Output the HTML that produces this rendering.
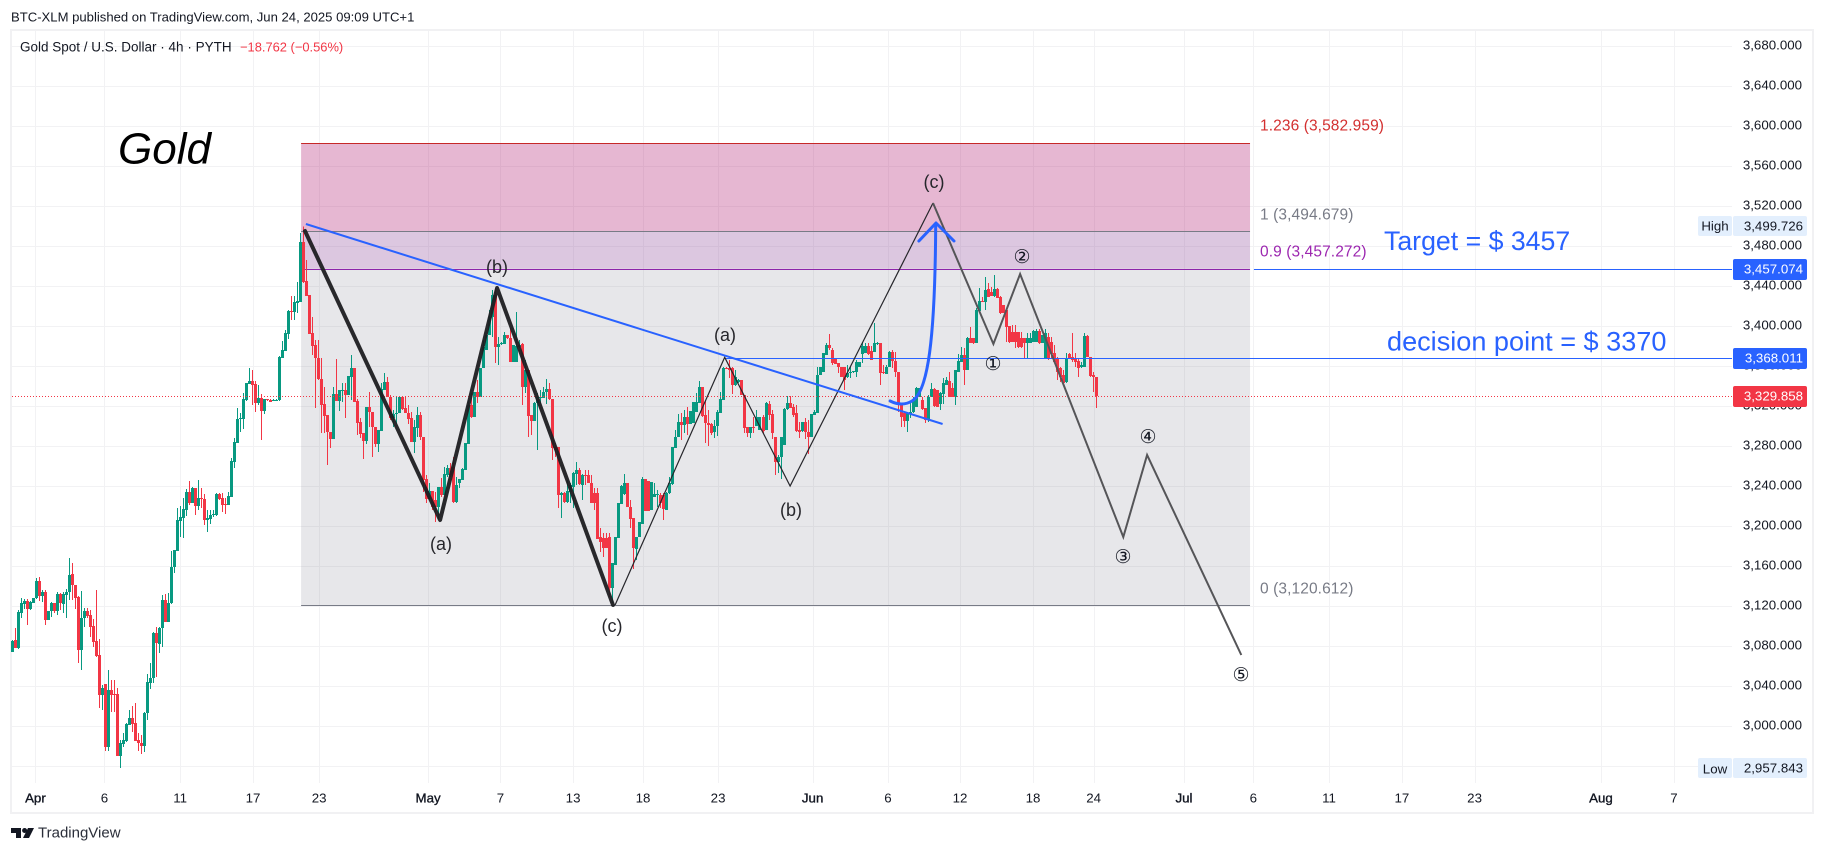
<!DOCTYPE html>
<html lang="en">
<head>
<meta charset="utf-8">
<title>Gold Spot / U.S. Dollar chart</title>
<style>
html,body{margin:0;padding:0;background:#fff;width:1824px;height:853px;overflow:hidden}
svg{display:block;font-family:"Liberation Sans",sans-serif}
text{dominant-baseline:central}
.wave-label{font-size:18px;fill:#26262b;text-anchor:middle}
.wave-number{font-size:19px;fill:#131722;text-anchor:middle;font-family:"DejaVu Sans","Liberation Sans",sans-serif}
.fib-label{font-size:15.5px;letter-spacing:.1px}
.tag-text{font-size:13.3px;text-anchor:end}
</style>
</head>
<body>
<svg id="chart" xmlns="http://www.w3.org/2000/svg" width="1824" height="853" viewBox="0 0 1824 853">
  <rect x="0" y="0" width="1824" height="853" fill="#ffffff"/>
  <rect x="11" y="30" width="1802" height="783" fill="#ffffff" stroke="#f1f1f3" stroke-width="2"/>
  <g id="grid"></g>
  <g id="zones"></g>
  <g id="candles" shape-rendering="crispEdges"></g>
  <g id="levels"></g>
  <g id="drawings"></g>
  <g id="axis"></g>

  <text x="11" y="17" font-size="13.1" fill="#131722">BTC-XLM published on TradingView.com, Jun 24, 2025 09:09 UTC+1</text>
  <text x="20" y="47" font-size="13.5" fill="#131722">Gold Spot / U.S. Dollar · 4h · PYTH</text>
  <text x="240" y="47" font-size="12.9" fill="#f23645">−18.762 (−0.56%)</text>
  <text x="118" y="149" font-size="44" font-style="italic" fill="#000000">Gold</text>

  <text class="wave-label" x="934" y="182">(c)</text>
  <text class="wave-label" x="497" y="267">(b)</text>
  <text class="wave-label" x="725" y="335">(a)</text>
  <text class="wave-label" x="791" y="510">(b)</text>
  <text class="wave-label" x="441" y="544">(a)</text>
  <text class="wave-label" x="612" y="626">(c)</text>
  <text class="wave-number" x="993" y="364">①</text>
  <text class="wave-number" x="1022" y="257">②</text>
  <text class="wave-number" x="1123" y="557">③</text>
  <text class="wave-number" x="1148" y="437">④</text>
  <text class="wave-number" x="1241" y="675">⑤</text>

  <text class="fib-label" x="1260" y="126" fill="#d32f2f">1.236 (3,582.959)</text>
  <text class="fib-label" x="1260" y="215" fill="#787b86">1 (3,494.679)</text>
  <text class="fib-label" x="1260" y="252" fill="#9c27b0">0.9 (3,457.272)</text>
  <text class="fib-label" x="1260" y="589" fill="#787b86">0 (3,120.612)</text>

  <text x="1384" y="241" font-size="26.7" fill="#2962ff">Target = $ 3457</text>
  <text x="1387" y="341" font-size="27.1" fill="#2962ff">decision point = $ 3370</text>

  <rect x="1698" y="216" width="34" height="20" rx="2" fill="#e3effd"/>
  <text x="1715" y="226" font-size="13.3" fill="#131722" text-anchor="middle">High</text>
  <rect x="1733" y="216" width="74" height="20" rx="2" fill="#e3effd"/>
  <text class="tag-text" x="1803" y="226" fill="#131722">3,499.726</text>
  <rect x="1698" y="758" width="34" height="20" rx="2" fill="#e3effd"/>
  <text x="1715" y="769" font-size="13.3" fill="#131722" text-anchor="middle">Low</text>
  <rect x="1733" y="758" width="74" height="20" rx="2" fill="#e3effd"/>
  <text class="tag-text" x="1803" y="768" fill="#131722">2,957.843</text>

  <g id="tags">
    <rect x="1733" y="259" width="74" height="21" rx="2" fill="#2962ff"/>
    <text class="tag-text" x="1803" y="269" fill="#ffffff">3,457.074</text>
    <rect x="1733" y="348" width="74" height="21" rx="2" fill="#2962ff"/>
    <text class="tag-text" x="1803" y="358" fill="#ffffff">3,368.011</text>
    <rect x="1733" y="386" width="74" height="21" rx="2" fill="#f23645"/>
    <text class="tag-text" x="1803" y="396" fill="#ffffff">3,329.858</text>
  </g>

  <g>
    <path d="M11 828h10v10h-5v-5h-5z" fill="#131722"/>
    <circle cx="24.6" cy="830.5" r="2.5" fill="#131722"/>
    <path d="M28 828h6l-5 10h-6z" fill="#131722"/>
    <text x="38" y="833" font-size="15" fill="#2a2e39">TradingView</text>
  </g>
</svg>
<script>
const opens = [
3074,3086,3078,3113,3122,3125,3117,3123,3128,3145,
3130,3134,3106,3115,3123,3115,3132,3122,3131,3134,
3152,3141,3129,3076,3108,3115,3111,3100,3085,3071,
3031,3042,2979,3036,3032,3032,2970,2982,2985,3001,
3008,3003,2986,2983,2980,3013,3043,3048,3093,3082,
3098,3126,3104,3123,3159,3175,3205,3208,3216,3234,
3223,3238,3220,3228,3227,3206,3207,3211,3211,3232,
3228,3222,3221,3229,3264,3283,3307,3307,3326,3342,
3345,3342,3323,3328,3315,3327,3326,3325,3325,3326,
3368,3375,3392,3415,3414,3423,3424,3484,3445,3431,
3393,3381,3368,3347,3322,3311,3294,3287,3332,3325,
3335,3336,3331,3349,3358,3325,3304,3293,3285,3319,
3314,3299,3282,3295,3336,3344,3329,3308,3312,3313,
3329,3318,3313,3308,3284,3298,3311,3289,3247,3227,
3235,3226,3219,3239,3231,3251,3258,3259,3224,3243,
3246,3256,3282,3321,3309,3334,3329,3358,3376,3391,
3409,3431,3379,3382,3382,3391,3388,3364,3364,3379,
3382,3339,3356,3311,3305,3323,3328,3328,3334,3337,
3327,3279,3279,3231,3233,3224,3234,3239,3252,3256,
3241,3251,3251,3243,3233,3233,3189,3188,3188,3189,
3138,3161,3188,3222,3232,3243,3219,3208,3177,3189,
3202,3247,3245,3216,3229,3231,3231,3231,3216,3233,
3242,3278,3289,3304,3301,3309,3302,3303,3314,3323,
3339,3311,3303,3302,3294,3300,3313,3326,3358,3358,
3358,3341,3344,3346,3331,3299,3293,3299,3300,3296,
3309,3296,3322,3312,3289,3264,3269,3281,3317,3323,
3319,3313,3296,3295,3304,3294,3289,3311,3313,3351,
3354,3371,3381,3376,3368,3363,3359,3359,3349,3353,
3354,3354,3359,3372,3373,3380,3375,3374,3382,3383,
3354,3352,3359,3374,3365,3354,3323,3313,3305,3312,
3314,3319,3329,3326,3318,3306,3329,3337,3336,3322,
3332,3341,3345,3338,3329,3354,3364,3371,3356,3388,
3388,3383,3415,3425,3424,3437,3434,3430,3437,3429,
3421,3416,3400,3394,3394,3394,3388,3388,3383,3383,
3384,3384,3395,3383,3368,3389,3384,3373,3368,3358,
3351,3344,3372,3369,3367,3365,3359,3359,3390,3369,3351,3349];
const highs = [
3086,3098,3116,3128,3127,3127,3125,3128,3148,3149,
3136,3136,3115,3124,3123,3134,3133,3134,3137,3168,
3163,3141,3130,3135,3118,3118,3116,3107,3136,3087,
3041,3042,3056,3046,3046,3038,2986,2993,3003,3016,
3020,3023,2993,2991,3014,3052,3063,3094,3099,3099,
3131,3132,3133,3175,3176,3218,3220,3228,3237,3245,
3239,3238,3246,3238,3232,3216,3216,3216,3233,3233,
3233,3228,3234,3268,3288,3318,3313,3333,3343,3358,
3356,3345,3341,3332,3327,3327,3327,3327,3327,3370,
3385,3396,3416,3430,3430,3444,3493,3499.726,3466,3431,
3409,3386,3386,3368,3339,3311,3294,3339,3367,3336,
3343,3343,3350,3371,3358,3327,3308,3293,3319,3334,
3314,3299,3296,3343,3353,3349,3331,3316,3329,3329,
3329,3329,3321,3314,3306,3319,3314,3289,3251,3243,
3235,3234,3239,3248,3259,3261,3263,3269,3249,3247,
3258,3283,3326,3333,3334,3346,3358,3386,3391,3416,
3436,3438,3389,3384,3394,3391,3398,3381,3414,3386,
3383,3366,3356,3311,3324,3333,3336,3339,3347,3343,
3327,3283,3279,3234,3234,3246,3243,3254,3264,3258,
3252,3256,3256,3251,3238,3238,3198,3193,3193,3193,
3163,3189,3223,3241,3252,3243,3226,3208,3189,3204,
3249,3247,3245,3244,3243,3236,3233,3233,3234,3249,
3279,3296,3312,3313,3316,3319,3315,3324,3333,3345,
3339,3326,3316,3303,3306,3316,3334,3359,3359,3366,
3359,3356,3347,3346,3331,3299,3299,3309,3316,3309,
3311,3324,3325,3316,3289,3271,3289,3318,3330,3330,
3322,3321,3304,3304,3308,3306,3312,3316,3359,3359,
3373,3383,3392,3378,3368,3363,3359,3359,3361,3359,
3355,3366,3364,3384,3383,3383,3380,3403,3384,3383,
3361,3361,3375,3376,3374,3354,3323,3314,3314,3323,
3329,3339,3338,3329,3318,3331,3343,3338,3336,3334,
3348,3349,3354,3343,3356,3372,3379,3378,3389,3399,
3388,3418,3438,3429,3449,3443,3439,3451,3438,3430,
3421,3418,3400,3401,3401,3394,3394,3388,3393,3393,
3396,3397,3397,3391,3397,3393,3389,3381,3369,3359,
3356,3373,3373,3393,3373,3367,3364,3393,3391,3369,3354,3349];
const lows = [
3074,3078,3077,3108,3117,3101,3116,3123,3127,3125,
3124,3101,3106,3109,3113,3111,3116,3113,3108,3126,
3126,3117,3063,3056,3099,3108,3089,3079,3069,3018,
3016,2975,2975,3014,3014,2970,2958,2979,2984,3001,
2994,2985,2975,2972,2974,3006,3037,3043,3049,3073,
3079,3104,3104,3122,3153,3175,3189,3188,3210,3221,
3223,3211,3216,3218,3201,3194,3202,3209,3210,3226,
3214,3212,3221,3229,3258,3283,3294,3297,3325,3342,
3321,3314,3321,3286,3312,3325,3324,3325,3325,3325,
3368,3375,3387,3406,3406,3413,3424,3443,3430,3392,
3371,3318,3346,3293,3293,3261,3278,3287,3325,3315,
3324,3308,3331,3326,3324,3291,3288,3267,3282,3299,
3269,3279,3274,3295,3336,3329,3306,3299,3302,3313,
3316,3313,3302,3284,3273,3289,3286,3234,3223,3226,
3216,3204,3206,3229,3231,3249,3249,3223,3223,3238,
3246,3256,3282,3308,3309,3323,3329,3358,3376,3391,
3389,3363,3361,3381,3382,3387,3364,3364,3364,3378,
3321,3333,3289,3291,3305,3276,3322,3328,3322,3326,
3266,3269,3218,3208,3223,3223,3223,3218,3241,3241,
3226,3241,3243,3223,3216,3187,3174,3169,3178,3129,
3123,3161,3188,3222,3231,3219,3198,3157,3166,3189,
3202,3215,3215,3216,3229,3219,3218,3206,3216,3232,
3241,3278,3289,3286,3293,3291,3302,3303,3314,3323,
3309,3283,3280,3291,3288,3290,3313,3326,3357,3348,
3332,3340,3343,3331,3293,3289,3288,3293,3300,3296,
3293,3296,3306,3287,3251,3253,3247,3281,3316,3318,
3309,3294,3288,3294,3287,3272,3289,3311,3313,3351,
3354,3371,3376,3361,3362,3353,3349,3336,3348,3348,
3353,3349,3359,3363,3373,3371,3366,3374,3381,3341,
3352,3352,3359,3358,3349,3314,3299,3299,3294,3308,
3313,3319,3329,3316,3303,3304,3329,3319,3319,3316,
3322,3341,3329,3329,3321,3354,3364,3341,3356,3383,
3382,3383,3413,3424,3416,3429,3430,3429,3428,3412,
3413,3384,3383,3384,3378,3378,3378,3368,3368,3383,
3384,3384,3382,3383,3368,3366,3368,3363,3346,3344,
3343,3343,3368,3364,3359,3349,3358,3359,3369,3349,3334,3318];
const closes = [
3085,3078,3114,3123,3125,3117,3124,3128,3145,3130,
3134,3106,3115,3123,3115,3132,3123,3132,3134,3151,
3141,3128,3076,3108,3115,3110,3099,3084,3070,3031,
3038,2979,3036,3031,3031,2970,2983,2986,3002,3008,
3002,2985,2983,2980,3013,3044,3048,3093,3083,3098,
3126,3104,3123,3159,3176,3206,3209,3217,3234,3223,
3238,3220,3228,3227,3206,3208,3211,3212,3232,3227,
3221,3221,3230,3265,3284,3307,3308,3327,3343,3345,
3341,3323,3328,3315,3327,3326,3324,3326,3326,3369,
3376,3393,3415,3414,3424,3425,3484,3444,3430,3392,
3380,3368,3347,3321,3310,3294,3287,3332,3325,3336,
3336,3331,3350,3358,3324,3303,3292,3285,3319,3314,
3299,3282,3296,3337,3344,3329,3308,3312,3313,3329,
3317,3313,3307,3284,3299,3311,3289,3246,3227,3235,
3219,3219,3239,3231,3252,3258,3251,3224,3241,3247,
3257,3283,3321,3309,3334,3329,3358,3379,3391,3409,
3431,3379,3382,3383,3391,3388,3364,3381,3380,3381,
3339,3356,3310,3305,3323,3329,3329,3334,3337,3327,
3278,3276,3231,3233,3224,3235,3241,3253,3256,3242,
3251,3250,3243,3223,3223,3187,3184,3178,3178,3138,
3163,3189,3223,3240,3243,3219,3207,3178,3189,3204,
3247,3215,3215,3244,3232,3232,3223,3217,3233,3243,
3279,3289,3304,3301,3309,3302,3315,3324,3324,3339,
3310,3303,3301,3293,3300,3314,3327,3358,3357,3356,
3341,3349,3346,3331,3298,3293,3299,3298,3309,3309,
3295,3323,3311,3293,3264,3269,3289,3317,3323,3318,
3311,3295,3294,3304,3294,3289,3312,3314,3351,3359,
3373,3381,3378,3363,3362,3359,3349,3346,3353,3354,
3355,3364,3364,3380,3380,3372,3366,3383,3383,3353,
3353,3359,3374,3365,3354,3323,3309,3305,3313,3314,
3326,3338,3338,3317,3306,3329,3337,3320,3319,3333,
3343,3346,3329,3329,3356,3365,3371,3356,3388,3383,
3383,3416,3425,3424,3436,3429,3430,3437,3428,3413,
3413,3399,3384,3384,3384,3379,3379,3383,3388,3388,
3395,3395,3383,3391,3393,3368,3372,3364,3354,3349,
3343,3368,3368,3366,3364,3358,3361,3390,3369,3350,3349,3329.858];

const priceTicks = [3680,3640,3600,3560,3520,3480,3440,3400,3360,3320,3280,3240,3200,3160,3120,3080,3040,3000,2960];
const priceTickLabels = ["3,680.000","3,640.000","3,600.000","3,560.000","3,520.000","3,480.000","3,440.000","3,400.000","3,360.000","3,320.000","3,280.000","3,240.000","3,200.000","3,160.000","3,120.000","3,080.000","3,040.000","3,000.000",""];
const timeTickBars = [7.8,30.8,56,80.3,102.3,138.6,162.7,186.9,210.2,235.2,266.7,291.8,315.8,340.1,360.3,390.4,413.5,438.7,463,487.2,529.3,553.6];
const timeTickLabels = ["Apr","6","11","17","23","May","7","13","18","23","Jun","6","12","18","24","Jul","6","11","17","23","Aug","7"];
const monthTicks = ["Apr","May","Jun","Jul","Aug"];

const fibPrices = [3582.959,3494.679,3457.272,3120.612];
const fibStartBar = 96.3;
const fibEndBar = 412.4;

const trendBars = [97.9,310];
const trendPrices = [3502,3302];
const correctiveBars = [97.6,142.6,161.6,200.2];
const correctivePrices = [3495,3206,3438,3121];
const thinWaveBars = [200.9,237.4,259.2,306.8];
const thinWavePrices = [3121,3368.7,3240,3523];
const impulseBars = [306.8,326.9,335.8,370.2,378.1,409.5];
const impulsePrices = [3523,3382,3452,3189,3271,3071];
const targetLevel = {price:3457.074,startBar:413.7};
const decisionLevel = {price:3368.011,startBar:237.4};
const lastPrice = 3329.858;

const SVGNS = "http://www.w3.org/2000/svg";
const PLOT_LEFT = 12, PLOT_RIGHT = 1732, PLOT_BOTTOM = 783;
function xAt(bar){ return 12 + bar * 3.002; }
function yAt(price){ return 126 + (3600 - price); }
function make(tag, parent, attrs){
  const node = document.createElementNS(SVGNS, tag);
  for (const key in attrs) node.setAttribute(key, attrs[key]);
  parent.appendChild(node);
  return node;
}
function pointList(bars, prices){
  return bars.map(function(b, i){ return xAt(b).toFixed(1) + "," + yAt(prices[i]).toFixed(1); }).join(" ");
}

const gridGroup = document.getElementById("grid");
const axisGroup = document.getElementById("axis");
priceTicks.forEach(function(price, i){
  const y = Math.round(yAt(price)) + 0.5;
  const line = make("line", gridGroup, {x1:PLOT_LEFT, x2:PLOT_RIGHT, y1:y, y2:y, stroke:"#f2f2f4", "stroke-width":1});
  
  
  if (priceTickLabels[i]) {
    const t = make("text", axisGroup, {x:1802, y:yAt(price) - 1, "font-size":13.3, fill:"#131722", "text-anchor":"end"});
    t.textContent = priceTickLabels[i];
    
    
  }
});
timeTickBars.forEach(function(bar, i){
  const x = Math.round(xAt(bar)) + 0.5;
  const line = make("line", gridGroup, {x1:x, x2:x, y1:31, y2:PLOT_BOTTOM, stroke:"#f2f2f4", "stroke-width":1});
  
  
  const isMonth = monthTicks.indexOf(timeTickLabels[i]) >= 0;
  const t = make("text", axisGroup, {x:xAt(bar), y:798, "font-size":13.3, fill:"#131722", "text-anchor":"middle", stroke:isMonth ? "#131722" : "none", "stroke-width":isMonth ? 0.35 : 0});
  t.textContent = timeTickLabels[i];
  
  
});

const zonesGroup = document.getElementById("zones");
const zoneFills = ["rgba(172,18,105,.3)","rgba(138,68,152,.3)","rgba(95,95,115,.15)"];
const fibLineColors = ["#c62828","#787b86","#8e24aa","#787b86"];
zoneFills.forEach(function(fill, i){
  const top = yAt(fibPrices[i]), bottom = yAt(fibPrices[i + 1]);
  const zone = make("rect", zonesGroup, {x:xAt(fibStartBar), y:top, width:xAt(fibEndBar) - xAt(fibStartBar), height:bottom - top, fill:fill});
  
  
});
fibPrices.forEach(function(price, i){
  const y = Math.round(yAt(price)) + 0.5;
  const line = make("line", zonesGroup, {x1:xAt(fibStartBar), x2:xAt(fibEndBar), y1:y, y2:y, stroke:fibLineColors[i], "stroke-width":1});
  
  
});

const candlesGroup = document.getElementById("candles");
opens.forEach(function(open, i){
  const close = closes[i];
  const color = close >= open ? "#089981" : "#f23645";
  const cx = Math.round(xAt(i));
  const g = make("g", candlesGroup, {});
  
  
  make("rect", g, {x:cx, y:yAt(highs[i]), width:1, height:Math.max(yAt(lows[i]) - yAt(highs[i]), 1), fill:color});
  const top = yAt(Math.max(open, close));
  make("rect", g, {x:cx - 1, y:top, width:3, height:Math.max(Math.abs(open - close), 1), fill:color});
});

const levelsGroup = document.getElementById("levels");
const targetLine = make("line", levelsGroup, {x1:xAt(targetLevel.startBar), x2:PLOT_RIGHT, y1:Math.round(yAt(targetLevel.price)) + .5, y2:Math.round(yAt(targetLevel.price)) + .5, stroke:"#2962ff", "stroke-width":1});


const decisionLine = make("line", levelsGroup, {x1:xAt(decisionLevel.startBar), x2:PLOT_RIGHT, y1:Math.round(yAt(decisionLevel.price)) + .5, y2:Math.round(yAt(decisionLevel.price)) + .5, stroke:"#2962ff", "stroke-width":1});


const lastLine = make("line", levelsGroup, {x1:PLOT_LEFT, x2:PLOT_RIGHT, y1:Math.round(yAt(lastPrice)) + .5, y2:Math.round(yAt(lastPrice)) + .5, stroke:"#f23645", "stroke-width":1, "stroke-dasharray":"1 2"});



const drawingsGroup = document.getElementById("drawings");
const corrective = make("polyline", drawingsGroup, {points:pointList(correctiveBars, correctivePrices), fill:"none", stroke:"#1d1d21", "stroke-width":4, "stroke-linejoin":"round", "stroke-linecap":"round", opacity:.95});


const thinWave = make("polyline", drawingsGroup, {points:pointList(thinWaveBars, thinWavePrices), fill:"none", stroke:"#26262b", "stroke-width":1.2});


const impulse = make("polyline", drawingsGroup, {points:pointList(impulseBars, impulsePrices), fill:"none", stroke:"#555558", "stroke-width":2});


const trend = make("polyline", drawingsGroup, {points:pointList(trendBars, trendPrices), fill:"none", stroke:"#2962ff", "stroke-width":2});



const arrowBars = [292.5,296.5,299.8,305.1,307.5,307.7];
const arrowPrices = [3325,3319,3325,3334,3386,3501];
const arrowHeadBars = [302.1,307.8,313.8];
const arrowHeadPrices = [3485,3503,3485];
const pt = function(i){ return xAt(arrowBars[i]).toFixed(1) + " " + yAt(arrowPrices[i]).toFixed(1); };
const arrowPath = make("path", drawingsGroup, {d:"M" + pt(0) + " Q" + pt(1) + " " + pt(2) + " C" + pt(3) + " " + pt(4) + " " + pt(5), fill:"none", stroke:"#2962ff", "stroke-width":3, "stroke-linecap":"round"});


const arrowHead = make("polyline", drawingsGroup, {points:pointList(arrowHeadBars, arrowHeadPrices), fill:"none", stroke:"#2962ff", "stroke-width":3, "stroke-linecap":"round", "stroke-linejoin":"round"});


</script>
</body>
</html>
